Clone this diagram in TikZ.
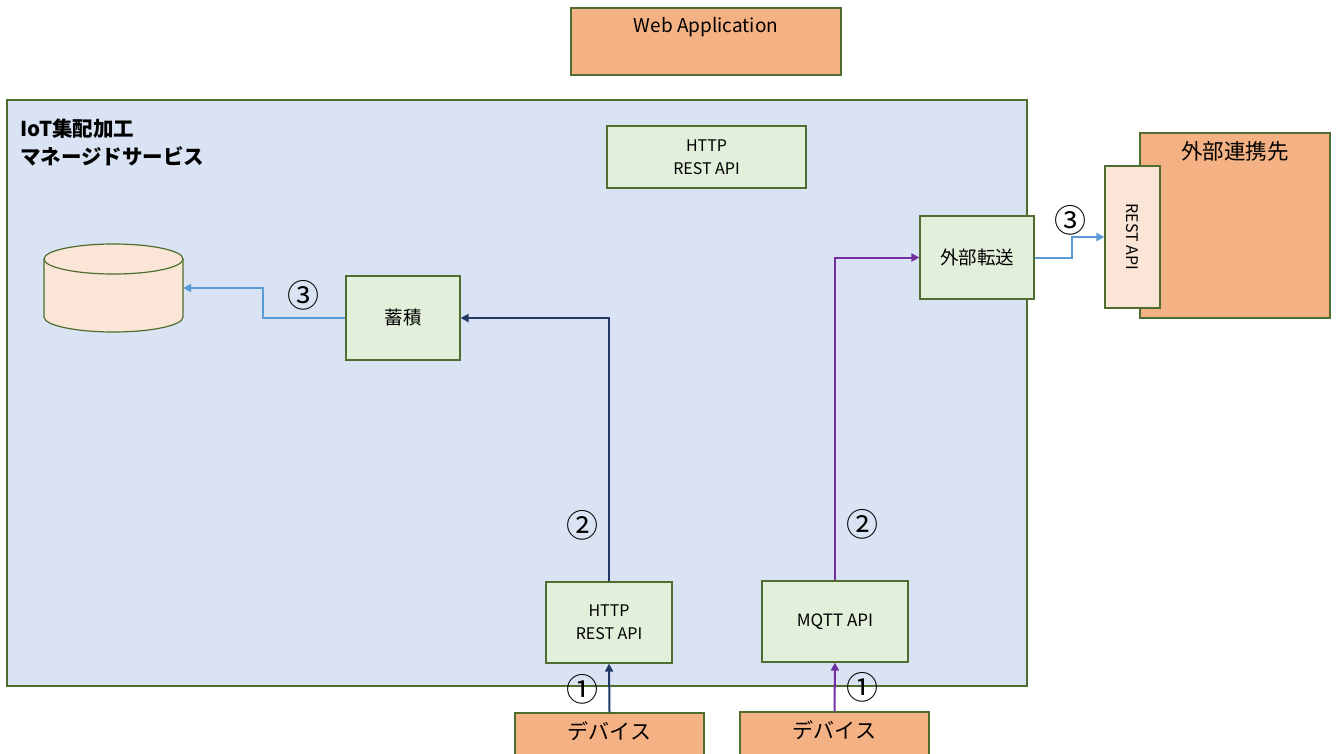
\documentclass[tikz,border=0pt]{standalone}
\usepackage{fontspec}
\setmainfont{Noto Sans CJK JP}
\usetikzlibrary{positioning, arrows.meta}

\definecolor{edgegreen}{HTML}{4E6D2E}
\definecolor{boxgreen}{HTML}{E2EFDA}
\definecolor{boxorange}{HTML}{F4B183}
\definecolor{boxpeach}{HTML}{FBE5D6}
\definecolor{areablue}{HTML}{DAE3F3}
\definecolor{linenavy}{HTML}{203864}
\definecolor{linepurple}{HTML}{7030A0}
\definecolor{lineblue}{HTML}{5B9BD5}

\tikzset{
    greenbox/.style={draw=edgegreen, fill=boxgreen, line width=1.2pt, align=center,
        font=\fontsize{16}{23}\selectfont},
    orangebox/.style={draw=edgegreen, fill=boxorange, line width=1.2pt},
    numlabel/.style={font=\fontsize{32}{32}\selectfont, inner sep=0pt},
    flow/.style={line width=2pt, -{Triangle[length=8pt,width=8pt]}}
}

\begin{document}
\begin{tikzpicture}[x=1pt, y=-1pt]
    \clip (0,0) rectangle (1337,754);
    \fill[white] (0,0) rectangle (1337,754);

    % web application
    \node[orangebox, minimum width=270, minimum height=67] (webapp) at (706,41.5) {};
    \node[below=10pt of webapp.north, font=\fontsize{19}{20}\selectfont, inner sep=0pt] (webapptext) {Web Application};

    % managed service area
    \node[draw=edgegreen, fill=areablue, line width=1.2pt, minimum width=1020, minimum height=586] (service) at (517,393) {};
    \node[anchor=north west, align=left, font=\fontsize{20.5}{28}\bfseries, inner sep=0pt] (servicetext) at (20,119) {IoT集配加工\\マネージドサービス};

    \node[greenbox, minimum width=199, minimum height=62] (httptop) at (706.5,157) {HTTP\\REST API};
    \node[greenbox, minimum width=114, minimum height=83, font=\fontsize{18.5}{20}\selectfont] (forward) at (977,257.5) {外部転送};
    \node[greenbox, minimum width=114, minimum height=84, font=\fontsize{18.5}{20}\selectfont] (store) at (403,318) {蓄積};
    \node[greenbox, minimum width=126, minimum height=81] (httpbot) at (609,622.5) {HTTP\\REST API};
    \node[greenbox, minimum width=146, minimum height=81, font=\fontsize{17}{20}\selectfont] (mqtt) at (835,621.5) {MQTT API};

    % storage
    \draw[draw=edgegreen, fill=boxpeach, line width=1.2pt]
        (44,259) -- (44,317) arc[start angle=180, end angle=360, x radius=69.5pt, y radius=15pt]
        -- (183,259) arc[start angle=0, end angle=180, x radius=69.5pt, y radius=15pt] -- cycle;
    \draw[draw=edgegreen, line width=1.2pt]
        (44,259) arc[start angle=180, end angle=360, x radius=69.5pt, y radius=15pt];
    \node[minimum width=139, minimum height=88, inner sep=0pt] (db) at (113.5,288) {};

    % external partner
    \node[orangebox, minimum width=190, minimum height=185] (partner) at (1235,225.5) {};
    \node[below=9pt of partner.north, font=\fontsize{21.5}{22}\selectfont, inner sep=0pt] (partnertext) {外部連携先};
    \node[draw=edgegreen, fill=boxpeach, line width=1.2pt, minimum width=55, minimum height=142] (restapi) at (1132.5,237) {};
    \node[rotate=-90, font=\fontsize{16}{18}\selectfont, inner sep=0pt] (restapitext) at (1132.5,237) {REST API};

    % devices
    \node[orangebox, minimum width=189, minimum height=70] (devA) at (609.5,748) {};
    \node[below=9pt of devA.north, font=\fontsize{21}{21}\selectfont, inner sep=0pt] (devAtext) {デバイス};
    \node[orangebox, minimum width=189, minimum height=70] (devB) at (834.5,747) {};
    \node[below=9pt of devB.north, font=\fontsize{21}{21}\selectfont, inner sep=0pt] (devBtext) {デバイス};

    % flows
    \draw[flow, linenavy] (devA.north) -- (httpbot.south);
    \draw[flow, linenavy] (httpbot.north) |- (store.east);
    \draw[flow, lineblue] (store.west) -- ++(-82,0) |- (db.east);
    \draw[flow, linepurple] (devB.north) -- (mqtt.south);
    \draw[flow, linepurple] (mqtt.north) |- (forward.west);
    \draw[flow, lineblue] (forward.east) -- ++(37,0) |- (restapi.west);

    \node[numlabel] (stepA1) at (582,689) {①};
    \node[numlabel] (stepA2) at (582,525) {②};
    \node[numlabel] (stepA3) at (303,295) {③};
    \node[numlabel] (stepB1) at (862,687) {①};
    \node[numlabel] (stepB2) at (862,524) {②};
    \node[numlabel] (stepB3) at (1070,220) {③};
\end{tikzpicture}
\end{document}
